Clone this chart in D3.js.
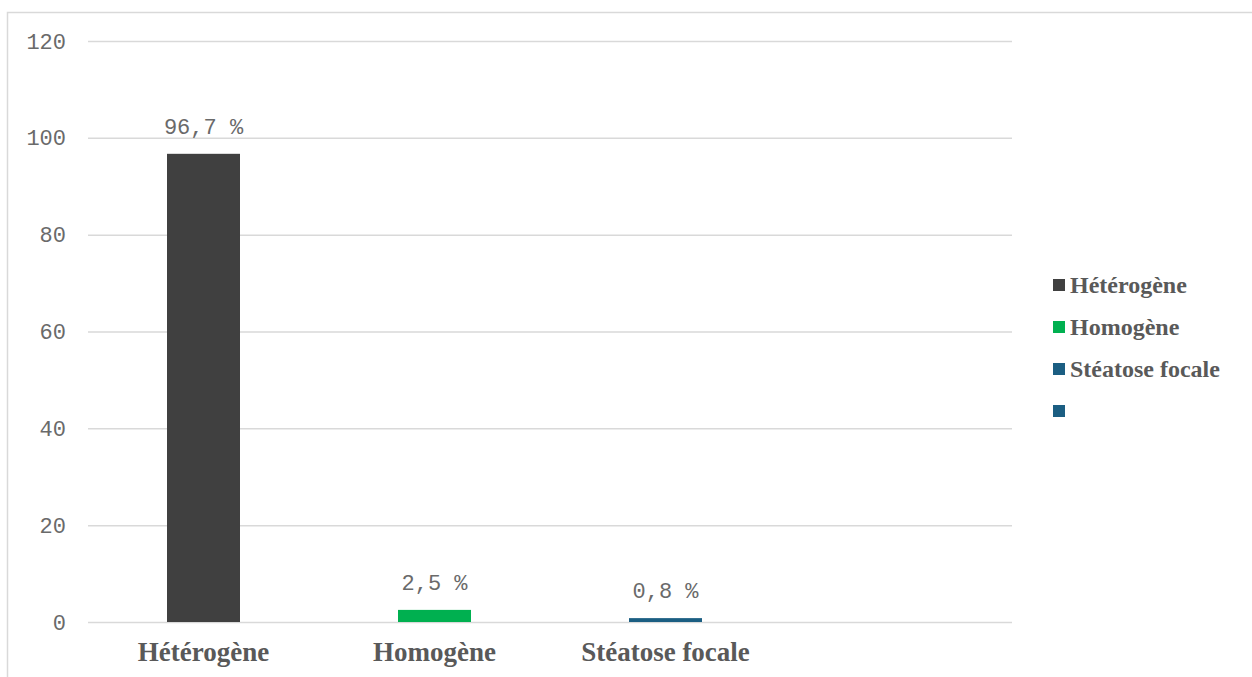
<!DOCTYPE html>
<html>
<head>
<meta charset="utf-8">
<script src="https://cdn.jsdelivr.net/npm/d3@7"></script>
<style>
  html, body { margin: 0; padding: 0; background: #fff; }
  svg { display: block; }
</style>
</head>
<body>
<svg id="chart" width="1252" height="677"></svg>
<script>
// Échogénicité hépatique : répartition des aspects observés (%)
const categories = ["Hétérogène", "Homogène", "Stéatose focale", ""];
const values = [96.7, 2.5, 0.8, null];
const valueLabels = ["96,7 %", "2,5 %", "0,8 %", null];
const colors = ["#404040", "#00b050", "#1b5e82", "#1b5e82"];
const legendLabels = ["Hétérogène", "Homogène", "Stéatose focale", ""];
const yTicks = [0, 20, 40, 60, 80, 100, 120];

const svg = d3.select("#chart");
const W = 1252, H = 677;

// outer frame
svg.append("rect")
  .attr("x", 7.5).attr("y", 12.5)
  .attr("width", W + 10).attr("height", H + 10)
  .attr("fill", "none").attr("stroke", "#d9d9d9").attr("stroke-width", 1.5);

const plot = { left: 88, right: 1012, top: 41, bottom: 622 };

const x = d3.scaleBand()
  .domain(d3.range(categories.length))
  .range([plot.left, plot.right])
  .paddingInner(0.684)
  .paddingOuter(0.342);

const y = d3.scaleLinear().domain([0, 120]).range([plot.bottom, plot.top]);

const monoFont = "'Liberation Mono', 'Courier New', monospace";
const serifFont = "'Liberation Serif', 'Times New Roman', serif";
const textGrey = "#6a6a6a";

// horizontal gridlines + tick labels
const yAxis = d3.axisLeft(y).tickValues(yTicks)
  .tickSize(-(plot.right - plot.left)).tickPadding(22).tickFormat(d3.format("d"));
const gy = svg.append("g").attr("transform", `translate(${plot.left},0)`).call(yAxis);
gy.select(".domain").remove();
gy.selectAll(".tick line").attr("stroke", "#d9d9d9").attr("stroke-width", 1.5);
gy.selectAll(".tick text")
  .attr("font-family", monoFont)
  .attr("font-size", 22).attr("fill", textGrey);

// bars
const idx = d3.range(categories.length).filter(i => values[i] != null);
svg.append("g").selectAll("rect").data(idx).join("rect")
  .attr("x", i => x(i))
  .attr("width", x.bandwidth())
  .attr("y", i => y(values[i]))
  .attr("height", i => y(0) - y(values[i]))
  .attr("fill", i => colors[i]);

// value labels
svg.append("g").selectAll("text").data(idx).join("text")
  .attr("x", i => x(i) + x.bandwidth() / 2)
  .attr("y", i => y(values[i]) - 20)
  .attr("text-anchor", "middle")
  .attr("font-family", monoFont)
  .attr("font-size", 22).attr("fill", textGrey)
  .text(i => valueLabels[i]);

// category axis labels
const xAxis = d3.axisBottom(x).tickSize(0).tickPadding(20).tickFormat(i => categories[i]);
const gx = svg.append("g").attr("transform", `translate(0,${plot.bottom})`).call(xAxis);
gx.select(".domain").remove();
gx.selectAll(".tick text")
  .attr("font-family", serifFont)
  .attr("font-weight", "bold")
  .attr("font-size", 27).attr("fill", "#595959");

// legend
const legend = svg.append("g").attr("transform", "translate(1053,285)");
const items = legend.selectAll("g").data(legendLabels).join("g")
  .attr("transform", (d, i) => `translate(0,${i * 42})`);
items.append("rect").attr("x", 0).attr("y", -6).attr("width", 12).attr("height", 12)
  .attr("fill", (d, i) => colors[i]);
items.append("text").attr("x", 17).attr("y", 0).attr("dy", "0.35em")
  .attr("font-family", serifFont)
  .attr("font-weight", "bold").attr("font-size", 24).attr("fill", "#595959")
  .text(d => d);
</script>
</body>
</html>
